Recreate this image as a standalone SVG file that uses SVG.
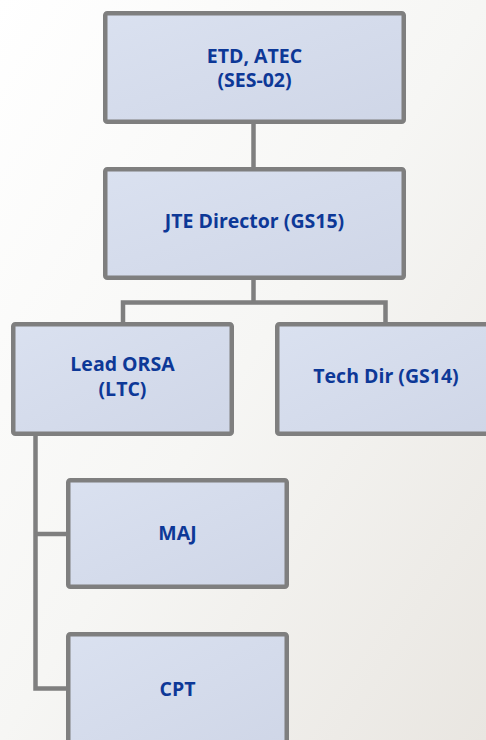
<svg xmlns="http://www.w3.org/2000/svg" width="486" height="740" viewBox="0 0 486 740">
  <defs>
    <linearGradient id="bg" x1="0" y1="0" x2="1" y2="1">
      <stop offset="0" stop-color="#ffffff"/>
      <stop offset="0.5" stop-color="#f6f6f4"/>
      <stop offset="1" stop-color="#e9e6e1"/>
    </linearGradient>
    <linearGradient id="boxfill" x1="0" y1="0" x2="1" y2="1">
      <stop offset="0" stop-color="#dae1f0"/>
      <stop offset="1" stop-color="#cfd6e7"/>
    </linearGradient>
    <style>
      .box { fill: url(#boxfill); stroke: #7f7f7f; stroke-width: 4.5; }
      .conn { fill: none; stroke: #7f7f7f; stroke-width: 4.5; stroke-linejoin: miter; }
      .lbl { font-family: "Open Sans", "Noto Sans", "DejaVu Sans", sans-serif; font-weight: bold; font-size: 19.5px; fill: #0d3897; text-anchor: middle; }
    </style>
  </defs>
  <rect x="0" y="0" width="486" height="740" fill="url(#bg)"/>

  <g id="connectors">
    <path class="conn" d="M253.5,124 V167"/>
    <path class="conn" d="M253.5,280 V302.5"/>
    <path class="conn" d="M123,322 V302.5 H385.5 V322"/>
    <path class="conn" d="M35.5,436 V688.5 H66"/>
    <path class="conn" d="M35.5,534 H66"/>
  </g>

  <g id="node-etd">
    <rect class="box" x="105.25" y="13.25" width="298.5" height="108.5" rx="2"/>
    <text class="lbl" x="254.5" y="62.5">ETD, ATEC<tspan x="254.5" dy="24.5">(SES-02)</tspan></text>
  </g>

  <g id="node-jte">
    <rect class="box" x="105.25" y="169.25" width="298.5" height="108.5" rx="2"/>
    <text class="lbl" x="254.5" y="227.5">JTE Director (GS15)</text>
  </g>

  <g id="node-orsa">
    <rect class="box" x="13.25" y="324.25" width="218.5" height="109.5" rx="2"/>
    <text class="lbl" x="122.5" y="371">Lead ORSA<tspan x="122.5" dy="24.5">(LTC)</tspan></text>
  </g>

  <g id="node-techdir">
    <rect class="box" x="277.25" y="324.25" width="218.5" height="109.5" rx="2"/>
    <text class="lbl" x="386" y="383">Tech Dir (GS14)</text>
  </g>

  <g id="node-maj">
    <rect class="box" x="68.25" y="480.25" width="218.5" height="106.5" rx="2"/>
    <text class="lbl" x="177.5" y="539.5">MAJ</text>
  </g>

  <g id="node-cpt">
    <rect class="box" x="68.25" y="634.25" width="218.5" height="115" rx="2"/>
    <text class="lbl" x="177.5" y="695.5">CPT</text>
  </g>
</svg>
